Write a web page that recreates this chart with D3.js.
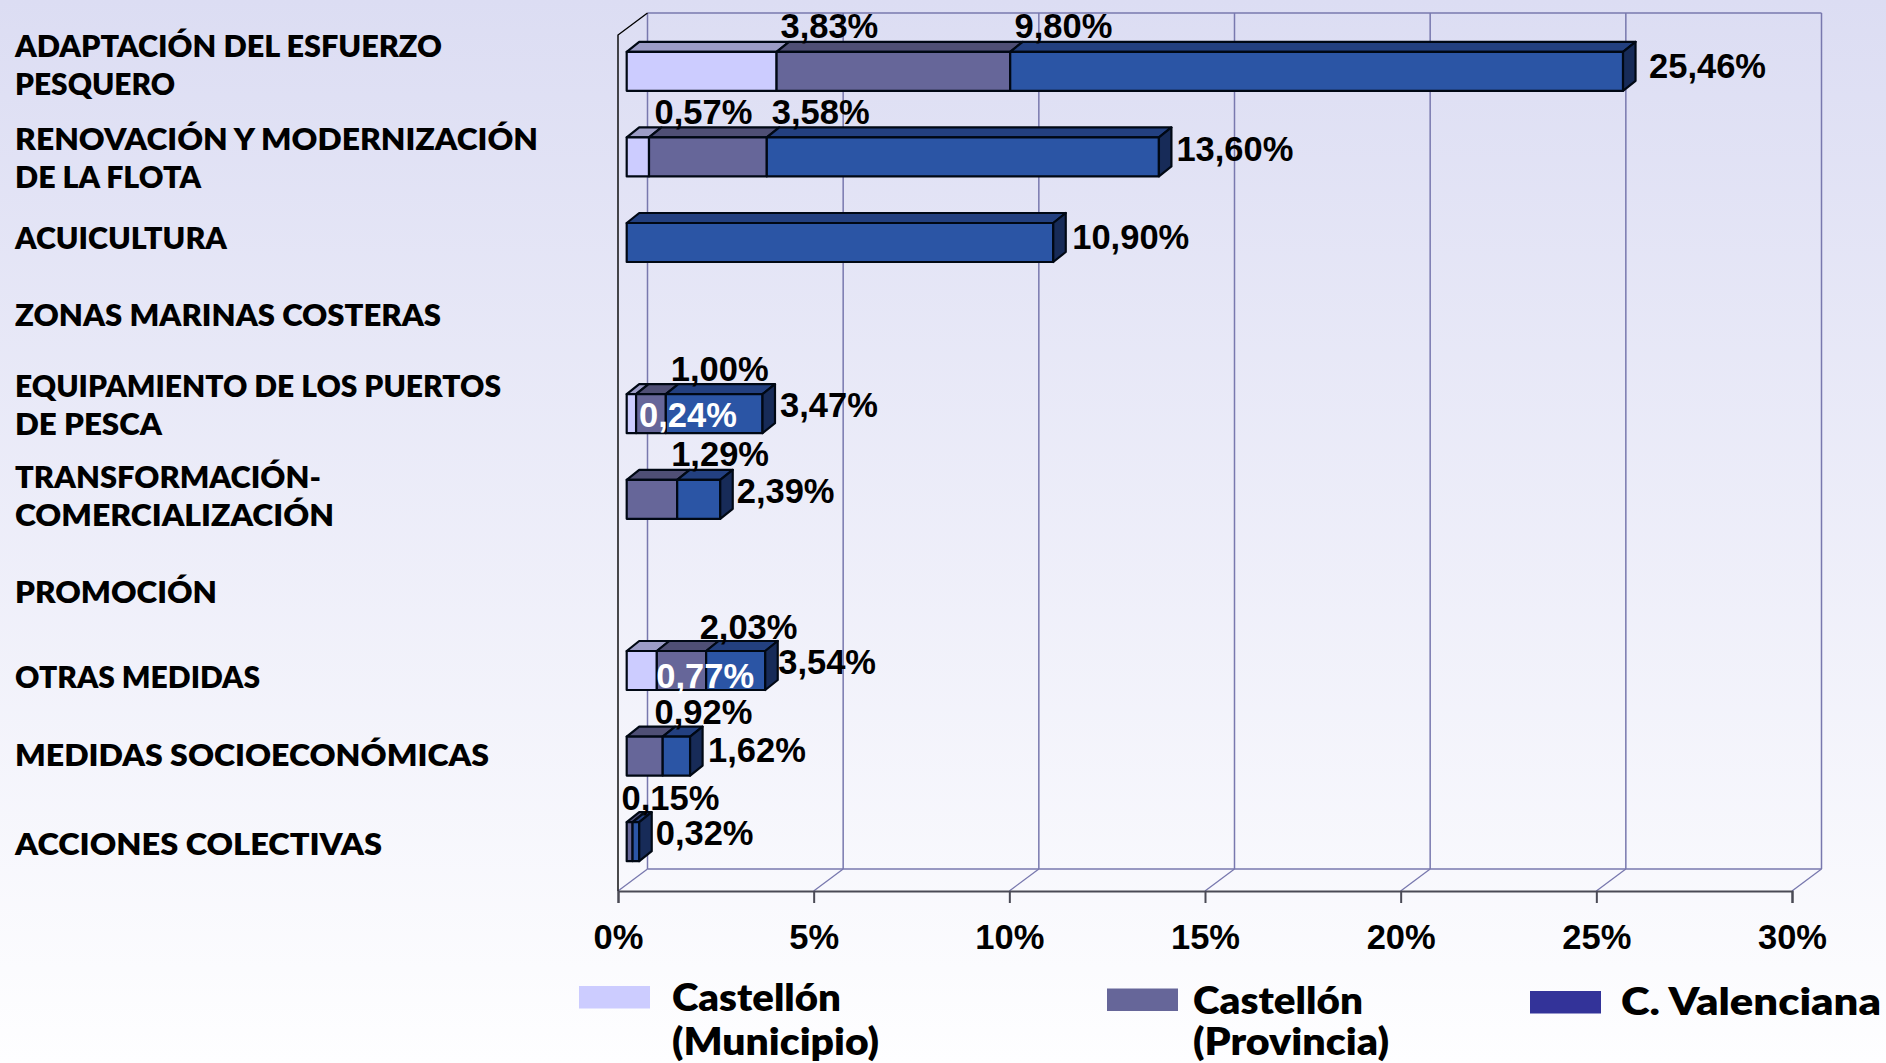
<!DOCTYPE html>
<html><head><meta charset="utf-8">
<script src="https://cdn.jsdelivr.net/npm/d3@7"></script>
<style>html,body{margin:0;padding:0;background:#fff}svg{display:block}</style>
</head><body><svg id="c" width="1886" height="1063"></svg>
<script>
const categories = ["ADAPTACIÓN DEL ESFUERZO\nPESQUERO","RENOVACIÓN Y MODERNIZACIÓN\nDE LA FLOTA","ACUICULTURA","ZONAS MARINAS COSTERAS","EQUIPAMIENTO DE LOS PUERTOS\nDE PESCA","TRANSFORMACIÓN-\nCOMERCIALIZACIÓN","PROMOCIÓN","OTRAS MEDIDAS","MEDIDAS SOCIOECONÓMICAS","ACCIONES COLECTIVAS"];
const municipio  = [3.83,0.57,null,null,0.24,null,null,0.77,null,null];
const provincia  = [9.80,3.58,null,null,1.00,1.29,null,2.03,0.92,0.15];
const valenciana = [25.46,13.60,10.90,null,3.47,2.39,null,3.54,1.62,0.32];
const xTicks = [0,5,10,15,20,25,30];
const legendLabels = [["Castellón","(Municipio)"],["Castellón","(Provincia)"],["C. Valenciana"]];

// label nudges (dx,dy) from the value position on the scales
const munNudge = [[3.4,-33.3],[5,-33],null,null,[2.5,13.3],null,null,[-1,17],null,null];
const proNudge = [[3.8,-33.3],[4.5,-33],null,null,[4.5,-32.7],[-6.5,-33.3],null,[-7,-31.5],[-8.7,-32],[-11.5,-31.7]];
const valNudge = [[25.5,6.7],[17,4],[18.5,6.5],null,[17,3.3],[16,4],null,[12.5,3.5],[17.5,5.9],[16,3.3]];
const catDy = [-14.3,-6.9,6.5,-2,-16.7,-11.3,18,17.5,10,13.3];
const catWidths = [[427,160],[523,186],[212],[426],[486,147],[306,319],[202],[245],[474],[367]];
const legendWidths = [[169,207],[170,196],[260]];

const svg = d3.select("#c");
const defs = svg.append("defs");
const g = defs.append("linearGradient").attr("id","bg").attr("x1",0).attr("x2",0).attr("y1",0).attr("y2",1);
g.append("stop").attr("offset",0).attr("stop-color","#dcddf3");
g.append("stop").attr("offset",1).attr("stop-color","#fefeff");
svg.append("rect").attr("width",1886).attr("height",1063).attr("fill","url(#bg)");

const x = d3.scaleLinear().domain([0,30]).range([618,1792]);
const y = d3.scaleBand().domain(categories).range([35,891]);
const wall = {dx:29.5,dy:22}, bar = {dx:12.5,dy:10, ox:8.7, oy:-6.5, h:39};
const gridC = "#7878ae";
const rowY = c => y(c)+y.bandwidth()/2+bar.oy;

// walls
const back = svg.append("g");
back.selectAll("line.v").data(xTicks).join("line").attr("class","v")
  .attr("x1",d=>x(d)+wall.dx).attr("x2",d=>x(d)+wall.dx).attr("y1",y.range()[0]-wall.dy).attr("y2",y.range()[1]-wall.dy)
  .attr("stroke",gridC).attr("stroke-width",1.5);
back.selectAll("line.f").data(xTicks).join("line").attr("class","f")
  .attr("x1",d=>x(d)).attr("x2",d=>x(d)+wall.dx).attr("y1",y.range()[1]).attr("y2",y.range()[1]-wall.dy)
  .attr("stroke",gridC).attr("stroke-width",1.3);
[[y.range()[0]],[y.range()[1]]].forEach(([v])=>back.append("line")
  .attr("x1",x(0)+wall.dx).attr("x2",x(30)+wall.dx).attr("y1",v-wall.dy).attr("y2",v-wall.dy)
  .attr("stroke",gridC).attr("stroke-width",1.5));
back.append("path").attr("fill","none").attr("stroke","#000").attr("stroke-width",1.4)
  .attr("d",`M${x(0)},${y.range()[1]}V${y.range()[0]}L${x(0)+wall.dx},${y.range()[0]-wall.dy}`);

// x axis
const axis = svg.append("g").attr("transform",`translate(0,${y.range()[1]})`)
  .call(d3.axisBottom(x).tickValues(xTicks).tickSize(12).tickPadding(22).tickFormat(d=>d+"%"));
axis.selectAll("path,line").attr("stroke","#4a4a55").attr("stroke-width",2);
axis.selectAll("text").attr("font-family","'Liberation Sans'").attr("font-weight",700).attr("font-size",34.5).attr("fill","#000");

// bars
const series = [
 {vals:municipio, front:"#ccccff", top:"#9c9cc6", side:"#7a7aa0", nudge:munNudge},
 {vals:provincia, front:"#666699", top:"#4f4f75", side:"#3e3e60", nudge:proNudge},
 {vals:valenciana,front:"#2b55a5", top:"#234080", side:"#172b58", nudge:valNudge}];
const bars = svg.append("g").attr("stroke","#000814").attr("stroke-width",2.2).attr("stroke-linejoin","round");
categories.forEach((c,i)=>{
  let prev = 0;
  const cy = rowY(c);
  const present = series.filter(s=>s.vals[i]!=null);
  const yt = cy - bar.h/2;
  const px = v=>x(v)+bar.ox;
  present.forEach((s,j)=>{
    const v = s.vals[i], x0=px(prev), x1=px(v);
    bars.append("polygon").attr("fill",s.top)
      .attr("points",[[x0,yt],[x1,yt],[x1+bar.dx,yt-bar.dy],[x0+bar.dx,yt-bar.dy]].join(" "));
    bars.append("rect").attr("x",x0).attr("y",yt).attr("width",x1-x0).attr("height",bar.h).attr("fill",s.front);
    if(j===present.length-1) bars.append("polygon").attr("fill",s.side)
      .attr("points",[[x1,yt],[x1+bar.dx,yt-bar.dy],[x1+bar.dx,yt+bar.h-bar.dy],[x1,yt+bar.h]].join(" "));
    prev = v;
  });
});

// data labels
const loc = d3.formatLocale({decimal:",",thousands:".",grouping:[3],currency:["","€"]});
const fmt = loc.format(".2f");
const labels = svg.append("g").attr("font-family","'Liberation Sans'").attr("font-weight",700).attr("font-size",34.5);
categories.forEach((c,i)=>{
  const cy = rowY(c);
  series.forEach(s=>{
    const v=s.vals[i]; if(v==null) return;
    const n=s.nudge[i];
    const white = s===series[0] && (i===4||i===7);
    labels.append("text").attr("x",x(v)+bar.ox+n[0]+0.5).attr("y",cy+n[1]).attr("fill",white?"#fff":"#000").text(fmt(v)+"%");
  });
});

// categories
const catG = svg.append("g").attr("font-family","Lato").attr("font-weight",800).attr("font-size",30).attr("fill","#000");
categories.forEach((c,i)=>{
  c.split("\n").forEach((l,k)=>catG.append("text").attr("x",15).attr("y",rowY(c)+catDy[i]+k*38)
    .attr("textLength",catWidths[i][k]).attr("lengthAdjust","spacingAndGlyphs").text(l));
});

// legend
const legendColors = ["#ccccff","#666699","#333399"];
const legPos = [{x:579,y:986,tx:672,ty:1011},{x:1107,y:988.5,tx:1193,ty:1014},{x:1530,y:991,tx:1621,ty:1015}];
const lg = svg.append("g").attr("font-family","Lato").attr("font-weight",800).attr("font-size",37);
legendLabels.forEach((ls,i)=>{
  const p=legPos[i];
  lg.append("rect").attr("x",p.x).attr("y",p.y).attr("width",71).attr("height",22.5).attr("fill",legendColors[i]);
  ls.forEach((l,k)=>lg.append("text").attr("x",p.tx).attr("y",k?1055:p.ty)
    .attr("textLength",legendWidths[i][k]).attr("lengthAdjust","spacingAndGlyphs").text(l));
});
</script></body></html>
